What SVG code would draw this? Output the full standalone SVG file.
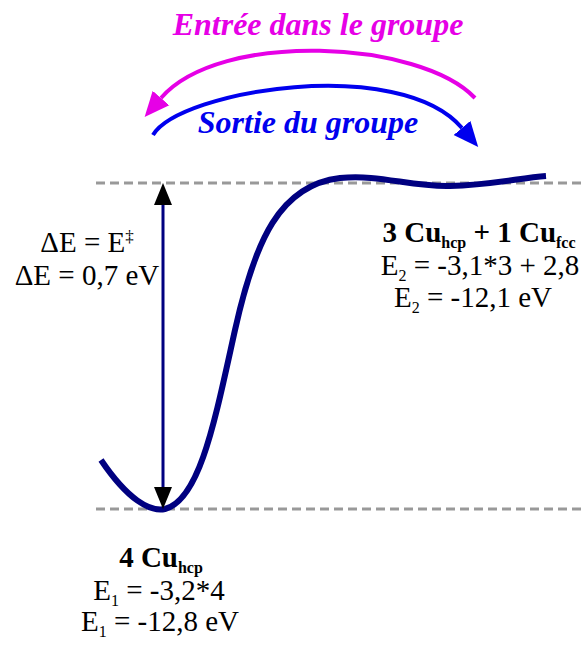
<svg xmlns="http://www.w3.org/2000/svg" width="584" height="648" viewBox="0 0 584 648">
<style>
.dash{stroke:#999;stroke-width:3;stroke-dasharray:9 5;fill:none}
.t{font-size:29px;fill:#000;text-anchor:middle}
.b{font-weight:bold}
.sub{font-size:16px}
.arc{fill:none;stroke-width:4}
.ti{font-size:32px;font-weight:bold;font-style:italic;text-anchor:middle}
</style>
<defs>
<marker id="hBlack" markerUnits="userSpaceOnUse" markerWidth="24" markerHeight="22" refX="0" refY="9" orient="auto-start-reverse" viewBox="0 0 24 18"><path d="M0,0 L22,9 L0,18 Z" fill="#000"/></marker>
<marker id="hMag" markerUnits="userSpaceOnUse" markerWidth="27" markerHeight="24" refX="0" refY="11" orient="auto" viewBox="0 0 27 22"><path d="M0,0 L25,11 L0,22 Z" fill="#e600e6"/></marker>
<marker id="hBlue" markerUnits="userSpaceOnUse" markerWidth="27" markerHeight="24" refX="0" refY="11" orient="auto" viewBox="0 0 27 22"><path d="M0,0 L25,11 L0,22 Z" fill="#0000ee"/></marker>
</defs>
<g id="levels">
<line class="dash" x1="96" y1="183" x2="584" y2="183"/>
<line class="dash" x1="96" y1="509" x2="584" y2="509"/>
</g>
<g id="curve">
<path d="M101,460 C128,500 150,512 165,509 C200,500 215,420 235,330 C255,240 280,185 340,178 C380,174 410,187 450,186 C490,185 520,178 546,176" fill="none" stroke="#000080" stroke-width="6"/>
</g>
<g id="connectors">
<line x1="163" y1="205" x2="163" y2="487" stroke="#000080" stroke-width="3" marker-start="url(#hBlack)" marker-end="url(#hBlack)"/>
<path class="arc" d="M475,98 C420,40 220,30 161,98" stroke="#e600e6" marker-end="url(#hMag)"/>
<path class="arc" d="M153,135 C180,90 400,55 462,128" stroke="#0000ee" marker-end="url(#hBlue)"/>
</g>
<g font-family="'Liberation Serif', Tinos, 'Times New Roman', 'DejaVu Serif', serif">
<g id="title-entree"><text class="ti" x="318" y="35" fill="#e600e6">Entrée dans le groupe</text></g>
<g id="title-sortie"><text class="ti" x="308" y="133" fill="#0000ee">Sortie du groupe</text></g>
<g id="label-dE">
<text class="t" x="87" y="252">ΔE = E<tspan font-size="17" dy="-10">‡</tspan></text>
<text class="t" x="87" y="285">ΔE = 0,7 eV</text>
</g>
<g id="label-state2">
<text class="t b" x="479" y="242">3 Cu<tspan class="sub" dy="6">hcp</tspan><tspan dy="-6"> + 1 Cu</tspan><tspan class="sub" dy="6">fcc</tspan></text>
<text class="t" x="480" y="275">E<tspan class="sub" dy="6">2</tspan><tspan dy="-6"> = -3,1*3 + 2,8</tspan></text>
<text class="t" x="473" y="307">E<tspan class="sub" dy="6">2</tspan><tspan dy="-6"> = -12,1 eV</tspan></text>
</g>
<g id="label-state1">
<text class="t b" x="161" y="567">4 Cu<tspan class="sub" dy="6">hcp</tspan></text>
<text class="t" x="159" y="600">E<tspan class="sub" dy="6">1</tspan><tspan dy="-6"> = -3,2*4</tspan></text>
<text class="t" x="160" y="631">E<tspan class="sub" dy="6">1</tspan><tspan dy="-6"> = -12,8 eV</tspan></text>
</g>
</g>
</svg>
